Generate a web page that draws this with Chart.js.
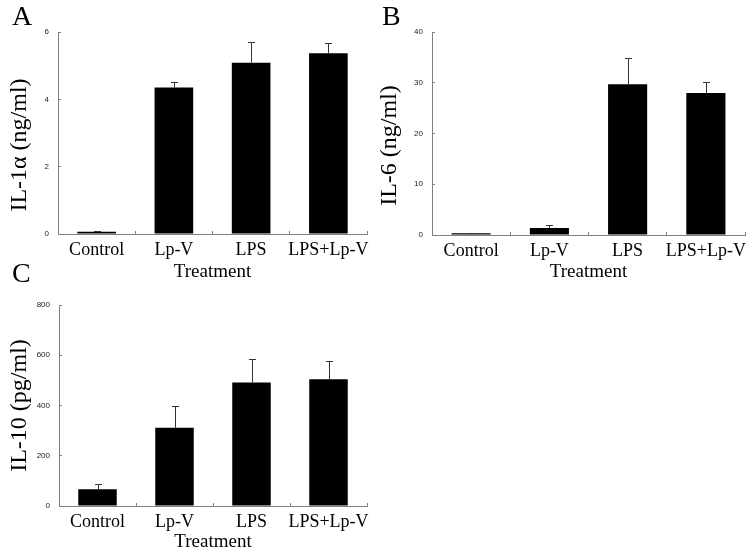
<!DOCTYPE html>
<html>
<head>
<meta charset="utf-8">
<script src="https://cdn.jsdelivr.net/npm/chart.js@4.4.1/dist/chart.umd.min.js"></script>
<style>
    body { margin: 0; background: #fff; }
    canvas { position: absolute; }
</style>
</head>
<body>
<canvas id="chartA" width="370" height="285" style="left:0;top:0"></canvas>
<canvas id="chartB" width="380" height="285" style="left:370px;top:0"></canvas>
<canvas id="chartC" width="370" height="298" style="left:0;top:257px"></canvas>
<script>
// Datos
const treatments = ['Control', 'Lp-V', 'LPS', 'LPS+Lp-V'];

const il1aValues = [0.07, 4.35, 5.09, 5.37];
const il1aErrors = [0.03, 0.16, 0.62, 0.29];
const il1aTicks = [0, 2, 4, 6];

const il6Values = [0.35, 1.4, 29.7, 28.0];
const il6Errors = [0.1, 0.55, 5.2, 2.1];
const il6Ticks = [0, 10, 20, 30, 40];

const il10Values = [67, 311, 492, 504];
const il10Errors = [22, 88, 92, 73];
const il10Ticks = [0, 200, 400, 600, 800];

const serif = "'Liberation Serif', 'Times New Roman', serif";
const axisColor = '#808080';
const shift = '\u00a0\u00a0\u00a0\u00a0'; // baja un poco el titulo del eje y

// Plugin para dibujar las barras de error (solo hacia arriba)
const errorBarsPlugin = {
    id: 'errorBars',
    afterDatasetsDraw: function(chart) {
        const ctx = chart.ctx;
        const yScale = chart.scales.y;
        chart.data.datasets.forEach(function(ds, i) {
            const meta = chart.getDatasetMeta(i);
            meta.data.forEach(function(bar, j) {
                const yErr = yScale.getPixelForValue(ds.data[j] + ds.errorBars[j]);
                const x = Math.round(bar.x) + 0.5;
                ctx.save();
                ctx.strokeStyle = '#333';
                ctx.lineWidth = 1;
                ctx.beginPath();
                ctx.moveTo(x, bar.y);
                ctx.lineTo(x, Math.round(yErr) + 0.5);
                ctx.moveTo(x - 3.5, Math.round(yErr) + 0.5);
                ctx.lineTo(x + 3.5, Math.round(yErr) + 0.5);
                ctx.stroke();
                ctx.restore();
            });
        });
    }
};

function crearGrafico(id, letra, values, errors, ticks, yTitle, cfg) {
    const ctx = document.getElementById(id).getContext('2d');
    return new Chart(ctx, {
        type: 'bar',
        data: {
            labels: treatments,
            datasets: [{
                data: values,
                errorBars: errors,
                backgroundColor: '#000',
                borderWidth: 0,
                barPercentage: 0.5,
                categoryPercentage: 1.0
            }]
        },
        options: {
            responsive: false,
            animation: false,
            devicePixelRatio: 1,
            layout: {
                padding: { left: 12, right: cfg.right, top: 0, bottom: 0 }
            },
            plugins: {
                legend: { display: false },
                tooltip: { enabled: false },
                title: {
                    display: true,
                    text: letra,
                    align: 'start',
                    color: '#000',
                    font: { family: serif, size: 28, weight: 'normal', lineHeight: 1 },
                    padding: { top: 4, bottom: cfg.titleBottom }
                }
            },
            scales: {
                x: {
                    grid: {
                        display: true,
                        drawOnChartArea: false,
                        tickLength: -3,
                        color: axisColor
                    },
                    border: { color: axisColor, width: 1 },
                    ticks: {
                        color: '#000',
                        font: { family: serif, size: 18 },
                        padding: 8,
                        maxRotation: 0,
                        autoSkip: false
                    },
                    title: {
                        display: true,
                        text: 'Treatment',
                        color: '#000',
                        font: { family: serif, size: 19 },
                        padding: { top: 0, bottom: cfg.xTitleBottom }
                    },
                    afterFit: function(scale) {
                        scale.height = cfg.xHeight;
                        scale.paddingLeft = 0;
                        scale.paddingRight = 0;
                    }
                },
                y: {
                    min: 0,
                    max: ticks[ticks.length - 1],
                    afterBuildTicks: function(scale) {
                        scale.ticks = ticks.map(function(v) { return { value: v }; });
                    },
                    grid: {
                        display: true,
                        drawOnChartArea: false,
                        tickLength: -3,
                        color: axisColor
                    },
                    border: { color: axisColor, width: 1 },
                    ticks: {
                        color: '#222',
                        font: { family: "'Liberation Sans', Arial, sans-serif", size: 8 },
                        padding: 12
                    },
                    title: {
                        display: true,
                        text: yTitle,
                        color: '#000',
                        font: { family: serif, size: 24, lineHeight: 1 },
                        padding: { top: -4, bottom: 0 }
                    },
                    afterFit: function(scale) {
                        scale.width = cfg.yWidth;
                        scale.paddingTop = 0;
                        scale.paddingBottom = 0;
                    }
                }
            }
        },
        plugins: [errorBarsPlugin]
    });
}

document.addEventListener('DOMContentLoaded', function() {
    crearGrafico('chartA', 'A', il1aValues, il1aErrors, il1aTicks, 'IL-1\u03b1 (ng/ml)' + shift,
        { right: 3, titleBottom: 0, xHeight: 51, xTitleBottom: 1.6, yWidth: 46 });
    crearGrafico('chartB', 'B', il6Values, il6Errors, il6Ticks, 'IL-6 (ng/ml)' + shift,
        { right: 5, titleBottom: 0, xHeight: 50, xTitleBottom: 1.6, yWidth: 50 });
    crearGrafico('chartC', 'C', il10Values, il10Errors, il10Ticks, 'IL-10 (pg/ml)',
        { right: 3, titleBottom: 16, xHeight: 49, xTitleBottom: 2, yWidth: 47 });
});
</script>
</body>
</html>
